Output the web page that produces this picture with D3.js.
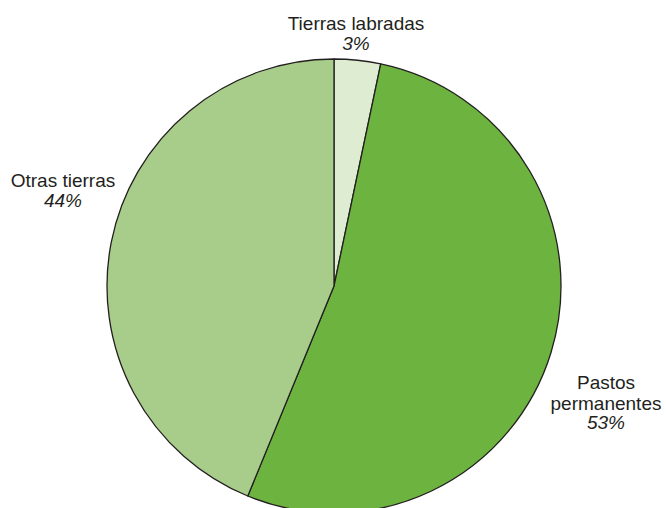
<!DOCTYPE html>
<html>
<head>
<meta charset="utf-8">
<script src="https://cdn.jsdelivr.net/npm/d3@7"></script>
<style>
  body { margin: 0; background: #fff; }
  text { font-family: "Liberation Sans", Arial, sans-serif; fill: #231f20; }
</style>
</head>
<body>
<div id="chart"></div>
<script>
// chart size
const width = 666;
const height = 508;

// data
const categories = ["Tierras labradas", "Pastos permanentes", "Otras tierras"];
const shares = [3.3, 52.9, 43.8];
const colors = ["#deecd2", "#6db33f", "#a8cd8a"];

// where each label block sits (center x, first baseline y)
const labelLayout = [
  {x: 356, y: 30, lines: ["Tierras labradas"]},
  {x: 606, y: 389, lines: ["Pastos", "permanentes"]},
  {x: 63, y: 187, lines: ["Otras tierras"]}
];
const lineGap = 20.5;

const cx = 334, cy = 286, radius = 227;

const svg = d3.select("#chart")
  .append("svg")
  .attr("width", width)
  .attr("height", height)
  .attr("viewBox", [0, 0, width, height]);

const data = categories.map((c, i) => ({name: c, value: shares[i], color: colors[i]}));

const pie = d3.pie().sort(null).value(d => d.value);
const arc = d3.arc().innerRadius(0).outerRadius(radius);

const g = svg.append("g").attr("transform", `translate(${cx},${cy})`);

g.selectAll("path")
  .data(pie(data))
  .join("path")
    .attr("d", arc)
    .attr("fill", d => d.data.color)
    .attr("stroke", "#231f20")
    .attr("stroke-width", 1.3)
    .attr("stroke-linejoin", "round");

// labels: name lines then italic percent
data.forEach((d, i) => {
  const lay = labelLayout[i];
  const t = svg.append("text")
    .attr("text-anchor", "middle")
    .attr("font-size", "19px");
  lay.lines.forEach((line, k) => {
    t.append("tspan")
      .attr("x", lay.x)
      .attr("y", lay.y + k * lineGap)
      .text(line);
  });
  t.append("tspan")
    .attr("x", lay.x)
    .attr("y", lay.y + lay.lines.length * lineGap - 1)
    .attr("font-style", "italic")
    .text(Math.round(d.value) + "%");
});
</script>
</body>
</html>
